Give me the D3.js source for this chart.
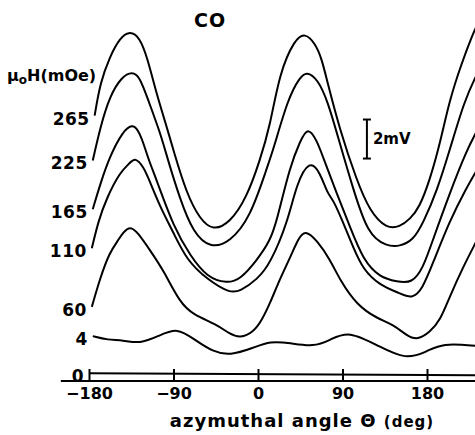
<!DOCTYPE html>
<html>
<head>
<meta charset="utf-8">
<script src="https://cdn.jsdelivr.net/npm/d3@7"></script>
<style>
body { margin: 0; background: #fff; }
text { font-family: "DejaVu Sans", sans-serif; font-weight: bold; fill: #000; }
</style>
</head>
<body>
<script>
// field values (mOe) labelling each trace, top to bottom
var fields = ["265", "225", "165", "110", "60", "4", "0"];
var tickAngles = [-180, -90, 0, 90, 180];

// [azimuthal angle (deg), signal (mV, offset stacked)]
var trace265 = [[-174, 13.6], [-168, 15.3], [-158, 16.6], [-147, 17.6], [-136, 17.95], [-126, 17.6],
                [-118, 16.6], [-108, 14.7], [-97, 13.0], [-90, 11.8], [-76, 9.6], [-62, 8.3],
                [-48, 7.7], [-30, 8.1], [-12, 9.4], [2, 11.3], [13, 13.1], [23, 15.8], [39, 17.5],
                [50, 17.85], [61, 17.3], [68, 16.5], [74, 15.3], [87, 12.9], [105, 10.3], [119, 8.7],
                [137, 7.8], [151, 7.9], [162, 8.3], [172, 8.9], [183, 10.3], [194, 12.2],
                [204, 14.4], [217, 16.3], [229, 17.8], [233, 18.2]];
var trace225 = [[-176, 11.3], [-168, 13.0], [-158, 14.6], [-145, 15.6], [-134, 15.85], [-126, 15.6],
                [-117, 14.4], [-104, 12.7], [-97, 11.5], [-83, 9.3], [-69, 7.6], [-51, 6.8],
                [-30, 7.1], [-8, 8.4], [10, 11.0], [16, 11.8], [32, 14.5], [45, 15.6], [52, 15.85],
                [63, 15.5], [74, 14.4], [87, 12.2], [101, 9.9], [117, 7.5], [137, 6.9], [151, 6.9],
                [165, 7.2], [176, 8.1], [191, 9.8], [204, 11.8], [220, 14.4], [233, 15.7]];
var trace165 = [[-176, 8.8], [-168, 10.1], [-158, 11.5], [-144, 12.8], [-134, 13.15], [-128, 12.9],
                [-122, 12.2], [-117, 11.4], [-108, 10.3], [-90, 7.9], [-72, 6.4], [-54, 5.3],
                [-33, 5.0], [-19, 5.2], [-1, 6.2], [13, 7.2], [20, 8.2], [34, 11.0], [45, 12.3],
                [53, 13.05], [63, 12.3], [69, 11.5], [84, 9.6], [98, 7.9], [112, 6.2], [130, 5.3],
                [148, 5.1], [164, 5.0], [176, 5.8], [186, 7.2], [204, 9.6], [222, 11.8], [233, 12.8]];
var trace110 = [[-177, 6.8], [-170, 8.2], [-161, 9.4], [-147, 10.7], [-136, 11.2], [-131, 11.45],
                [-122, 11.0], [-115, 10.2], [-104, 8.9], [-90, 7.6], [-76, 6.2], [-54, 5.2],
                [-30, 4.5], [-19, 4.6], [-1, 5.2], [13, 6.0], [32, 8.2], [41, 10.1], [55, 11.35],
                [66, 10.7], [74, 9.6], [80, 9.3], [90, 8.2], [101, 6.9], [112, 5.7], [130, 4.9],
                [151, 4.5], [164, 4.2], [175, 4.7], [186, 6.0], [204, 8.2], [222, 9.9], [233, 10.8]];
var trace60 = [[-177, 3.8], [-168, 5.3], [-158, 6.6], [-149, 7.2], [-144, 7.6], [-136, 7.95],
               [-128, 7.6], [-115, 6.7], [-101, 5.7], [-83, 4.0], [-69, 3.4], [-44, 2.9],
               [-30, 2.4], [-19, 2.2], [-5, 2.5], [4, 3.1], [13, 4.0], [23, 5.2], [34, 6.3],
               [43, 7.3], [50, 7.75], [63, 7.2], [77, 6.2], [87, 5.2], [105, 3.9], [127, 3.2],
               [144, 2.9], [159, 2.3], [170, 2.1], [183, 2.5], [194, 3.1], [204, 4.3], [218, 5.8],
               [233, 7.2]];
var trace4 = [[-176, 2.3], [-160, 2.1], [-144, 2.1], [-126, 1.9], [-106, 2.3], [-86, 2.75],
              [-67, 2.1], [-48, 1.5], [-30, 1.3], [-5, 1.7], [13, 2.05], [34, 1.95], [59, 1.75],
              [77, 2.1], [96, 2.6], [130, 1.75], [157, 1.1], [180, 1.5], [196, 1.95], [233, 1.8]];
var trace0 = [[-180, 0.4], [233, 0.3]];

var traces = [trace265, trace225, trace165, trace110, trace60, trace4, trace0];

var baseExtent = [-210, 233];   // lower baseline, deg
var barAngle = 116;             // 2 mV scale bar
var barMv = [11.4, 13.4];

var width = 475, height = 435;

var svg = d3.select("body").append("svg")
    .attr("width", width)
    .attr("height", height);

var x = d3.scaleLinear().domain([-180, 180]).range([89, 427]);
var y = d3.scaleLinear().domain([0, 18.5]).range([381, 20]);

var line = d3.line()
    .x(function(d) { return x(d[0]); })
    .y(function(d) { return y(d[1]); })
    .curve(d3.curveBasis);

svg.selectAll("path.trace")
    .data(traces)
    .enter()
    .append("path")
    .attr("class", "trace")
    .attr("d", line)
    .attr("fill", "none")
    .attr("stroke", "#000")
    .attr("stroke-width", 2);

// field labels at the start of each trace
svg.selectAll("text.field")
    .data(traces)
    .enter()
    .append("text")
    .attr("class", "field")
    .attr("x", function(d) { return x(d[0][0]) - 5; })
    .attr("y", function(d) { return y(d[0][1]) + 4; })
    .attr("text-anchor", "end")
    .attr("dominant-baseline", "middle")
    .attr("font-size", 17)
    .attr("letter-spacing", 0.5)
    .text(function(d, i) { return fields[i]; });

// baseline and ticks
svg.append("line")
    .attr("x1", x(baseExtent[0])).attr("x2", x(baseExtent[1]))
    .attr("y1", y(0)).attr("y2", y(0))
    .attr("stroke", "#000").attr("stroke-width", 2);

var xAxis = d3.axisBottom(x)
    .tickValues(tickAngles)
    .tickSize(-12)
    .tickPadding(7)
    .tickFormat(d3.format("d"));

var xg = svg.append("g")
    .attr("transform", "translate(0," + y(0) + ")")
    .call(xAxis);
xg.select(".domain").remove();
xg.selectAll(".tick line").attr("stroke-width", 2);
xg.selectAll(".tick text")
    .attr("font-family", "DejaVu Sans, sans-serif")
    .attr("font-weight", "bold")
    .attr("font-size", 16);

svg.append("text")
    .attr("x", 302).attr("y", 427)
    .attr("text-anchor", "middle")
    .attr("font-size", 18)
    .attr("letter-spacing", 1)
    .text("azymuthal angle \u0398 ")
    .append("tspan")
    .attr("font-size", 15)
    .text("(deg)");

// title and y label
svg.append("text")
    .attr("x", 210).attr("y", 27)
    .attr("text-anchor", "middle")
    .attr("font-size", 19)
    .attr("letter-spacing", 1)
    .text("CO");

var ylab = svg.append("text")
    .attr("x", 7).attr("y", 81)
    .attr("font-size", 16);
ylab.append("tspan").text("\u03bc");
ylab.append("tspan").attr("font-size", 12).attr("dy", 3).text("o");
ylab.append("tspan").attr("dy", -3).text("H(mOe)");

// 2 mV scale bar
var bar = svg.append("g").attr("stroke", "#000").attr("stroke-width", 2);
bar.append("line")
    .attr("x1", x(barAngle)).attr("x2", x(barAngle))
    .attr("y1", y(barMv[0])).attr("y2", y(barMv[1]));
barMv.forEach(function(v) {
    bar.append("line")
        .attr("x1", x(barAngle) - 4).attr("x2", x(barAngle) + 4)
        .attr("y1", y(v)).attr("y2", y(v));
});
svg.append("text")
    .attr("x", x(barAngle) + 6)
    .attr("y", y((barMv[0] + barMv[1]) / 2))
    .attr("dominant-baseline", "middle")
    .attr("font-size", 15)
    .text("2mV");
</script>
</body>
</html>
